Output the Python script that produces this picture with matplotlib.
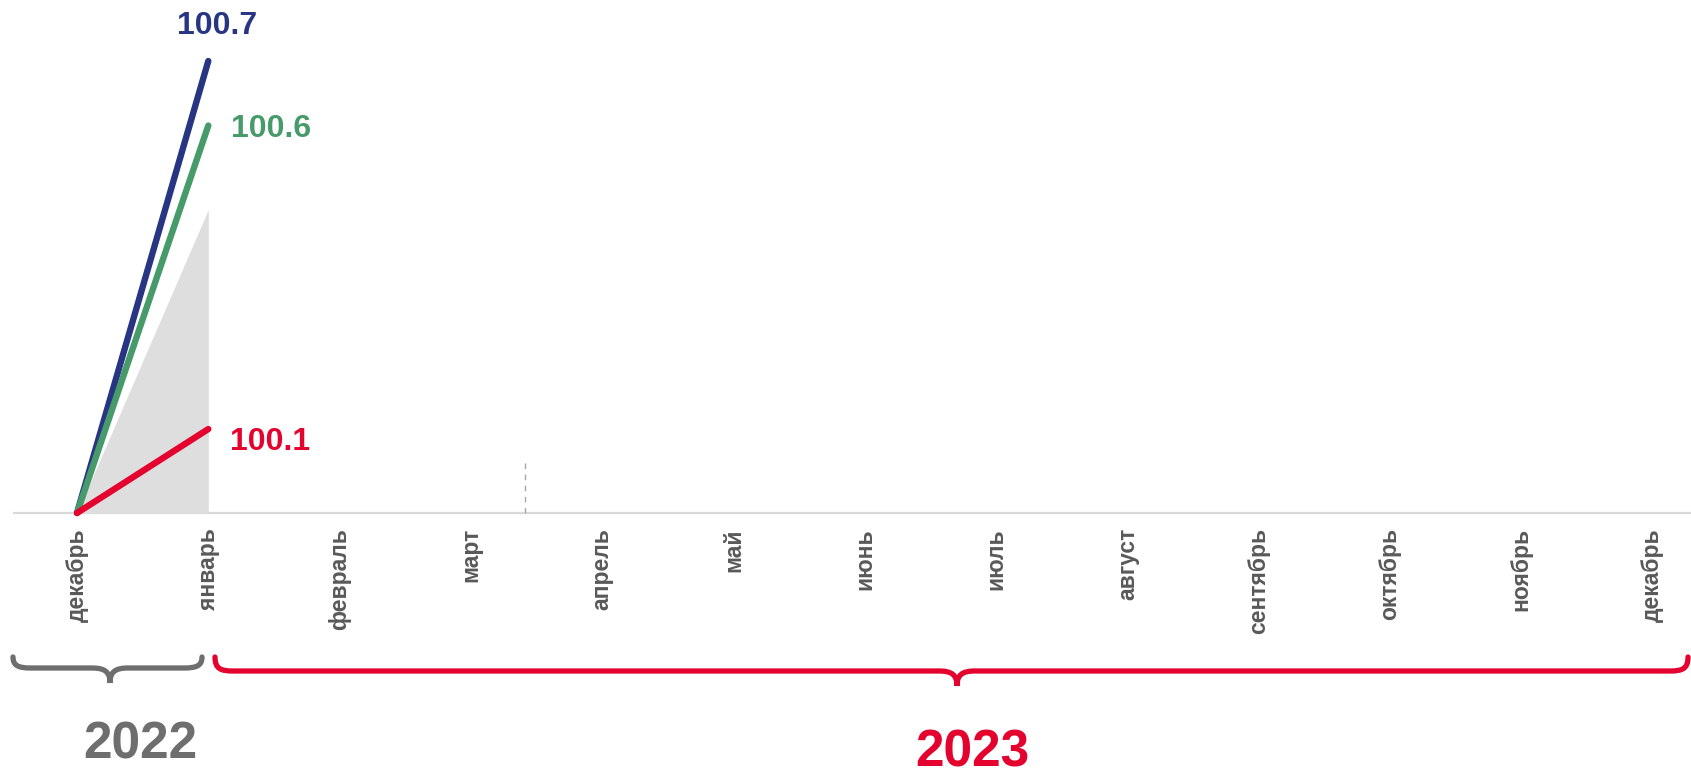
import matplotlib
matplotlib.use("Agg")
import matplotlib.pyplot as plt
from matplotlib.path import Path
from matplotlib.patches import PathPatch

months = ["декабрь", "январь", "февраль", "март", "апрель", "май", "июнь",
          "июль", "август", "сентябрь", "октябрь", "ноябрь", "декабрь"]
x_pts = [0, 1]
blue_vals = [100.0, 100.70]
green_vals = [100.0, 100.60]
red_vals = [100.0, 100.13]
grey_vals = [100.0, 100.47]
blue_label = "100.7"
green_label = "100.6"
red_label = "100.1"
years = ["2022", "2023"]
marker_x = 3.41
marker_top = 100.079

BLUE = "#283583"
GREEN = "#479a69"
RED = "#e4032e"
GREY_TXT = "#595959"
GREY_YEAR = "#6e6e6e"

W, H = 1691, 776
fig = plt.figure(figsize=(W / 100, H / 100), dpi=100)
ax = fig.add_axes([0, 0, 1, 1])
ax.set_axis_off()

ppu_x = 131.3
x0px = 77
ax.set_xlim(-x0px / ppu_x, (W - x0px) / ppu_x)
ppu_y = 645.7
base_px = 513
ax.set_ylim(100 - (H - base_px) / ppu_y, 100 + base_px / ppu_y)

FONT = "Liberation Sans"

# grey area
ax.fill_between(x_pts, [100.0, 100.0], grey_vals, color="#dedede", lw=0, zorder=1)

# baseline
ax.plot([(13 - x0px) / ppu_x, 13], [100, 100], color="#d9d9d9", lw=1.6, zorder=0,
        solid_capstyle="butt")

# dashed marker
ax.plot([marker_x, marker_x], [100, marker_top], color="#a6a6a6", lw=1.0,
        ls=(0, (4, 4)), zorder=0)

# lines
for vals, col in [(blue_vals, BLUE), (green_vals, GREEN), (red_vals, RED)]:
    ax.plot(x_pts, vals, color=col, lw=4.6, solid_capstyle="round", zorder=3)

# value labels
ax.annotate(blue_label, (x_pts[1], blue_vals[1]), xytext=(9, 35), textcoords="offset pixels",
            ha="center", va="center", color=BLUE, fontsize=23, fontweight="bold", family=FONT)
ax.annotate(green_label, (x_pts[1], green_vals[1]), xytext=(23, -3), textcoords="offset pixels",
            ha="left", va="center", color=GREEN, fontsize=23, fontweight="bold", family=FONT)
ax.annotate(red_label, (x_pts[1], red_vals[1]), xytext=(22, -13), textcoords="offset pixels",
            ha="left", va="center", color=RED, fontsize=23, fontweight="bold", family=FONT)

# month labels
label_y = 100 - (528 - base_px) / ppu_y
for i, m in enumerate(months):
    ax.text(i, label_y, m, rotation=90, ha="center", va="top", color=GREY_TXT,
            fontsize=16.5, fontweight="bold", family=FONT)


def fx(px):
    return px / W


def fy(py):
    return 1 - py / H


def brace(xl, xr, y_top, y_h, y_tip, xc, r=18):
    pts = [
        (xl, y_top),
        (xl, y_h - 2), (xl + 6, y_h), (xl + r, y_h),
        (xc - r, y_h),
        (xc - 5, y_h), (xc, y_h + 4), (xc, y_tip),
        (xc, y_h + 4), (xc + 5, y_h), (xc + r, y_h),
        (xr - r, y_h),
        (xr - 6, y_h), (xr, y_h - 2), (xr, y_top),
    ]
    codes = [Path.MOVETO,
             Path.CURVE4, Path.CURVE4, Path.CURVE4,
             Path.LINETO,
             Path.CURVE4, Path.CURVE4, Path.CURVE4,
             Path.CURVE4, Path.CURVE4, Path.CURVE4,
             Path.LINETO,
             Path.CURVE4, Path.CURVE4, Path.CURVE4]
    return Path([(fx(a), fy(b)) for a, b in pts], codes)


fig.patches.append(PathPatch(brace(13, 202, 657, 668, 683, 110), transform=fig.transFigure,
                             fill=False, edgecolor=GREY_YEAR, lw=3.8, capstyle="round"))
fig.patches.append(PathPatch(brace(215, 1688, 657, 671, 686, 957), transform=fig.transFigure,
                             fill=False, edgecolor=RED, lw=3.8, capstyle="round"))

fig.text(fx(140), fy(745), years[0], ha="center", va="center", color=GREY_YEAR,
         fontsize=37, fontweight="bold", family=FONT)
fig.text(fx(972), fy(753), years[1], ha="center", va="center", color=RED,
         fontsize=37, fontweight="bold", family=FONT)

fig.savefig("out.png", dpi=100, facecolor="white")
